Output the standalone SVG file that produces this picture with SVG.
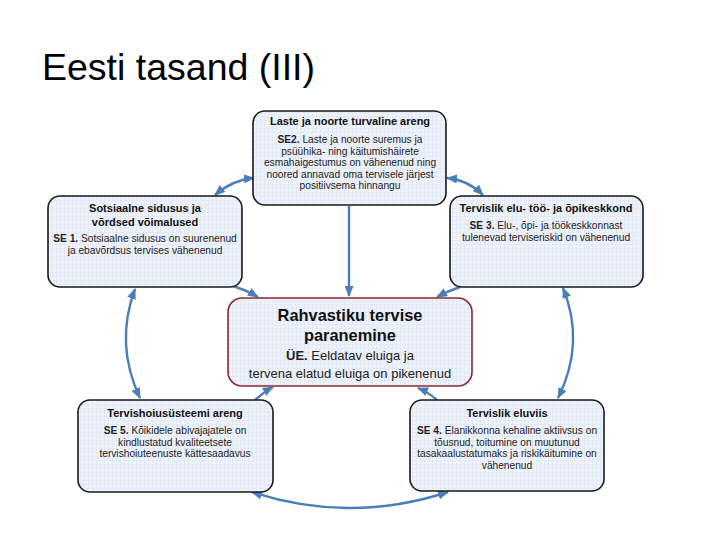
<svg xmlns="http://www.w3.org/2000/svg" width="709" height="539" viewBox="0 0 709 539">
<defs>
<pattern id="grid" width="4" height="4" patternUnits="userSpaceOnUse">
<rect width="4" height="4" fill="#eff3fa"/>
<path d="M0,0.5 H4 M0.5,0 V4" stroke="#e4eaf5" stroke-width="1"/>
</pattern>
<marker id="ah" markerUnits="userSpaceOnUse" markerWidth="11" markerHeight="9" refX="10" refY="4.5" orient="auto-start-reverse">
<path d="M0,0 L11,4.5 L0,9 z" fill="#4a7ebb"/>
</marker>
</defs>
<style>
.box{fill:url(#grid);stroke:#1a1a1a;stroke-width:1.6}
.main{fill:url(#grid);stroke:#8c2a2e;stroke-width:1.6}
.t{font-family:"Liberation Sans",Arial,sans-serif;font-weight:bold;font-size:11px;fill:#111;text-anchor:middle}
.b{font-family:"Liberation Sans",Arial,sans-serif;font-size:10.2px;fill:#222;text-anchor:middle}
.mt{font-family:"Liberation Sans",Arial,sans-serif;font-weight:bold;font-size:16.4px;fill:#111;text-anchor:middle}
.mb{font-family:"Liberation Sans",Arial,sans-serif;font-size:13px;fill:#222;text-anchor:middle}
.bold{font-weight:bold}
.c{fill:none;stroke:#4a7ebb;stroke-width:2.4}
</style>
<rect width="709" height="539" fill="#ffffff"/>
<text x="42" y="80" font-family="Liberation Sans,Arial,sans-serif" font-size="37.5" fill="#000">Eesti tasand (III)</text>

<g id="connectors">
<path class="c" d="M349,206 L349,296" marker-end="url(#ah)"/>
<path class="c" d="M233,286 Q246,290 258,297" marker-end="url(#ah)"/>
<path class="c" d="M460,287 Q448,291 437,297" marker-end="url(#ah)"/>
<path class="c" d="M255,400 Q264,392 273,387" marker-end="url(#ah)"/>
<path class="c" d="M437,400 Q428,392 418,388" marker-end="url(#ah)"/>
<path class="c" d="M215,195 Q232,180 254,178" marker-start="url(#ah)" marker-end="url(#ah)"/>
<path class="c" d="M447,178 Q468,180 483,195" marker-start="url(#ah)" marker-end="url(#ah)"/>
<path class="c" d="M135,289 Q114.5,344 140,398" marker-start="url(#ah)" marker-end="url(#ah)"/>
<path class="c" d="M563,288 Q585.5,343 558,398" marker-start="url(#ah)" marker-end="url(#ah)"/>
<path class="c" d="M252,492 Q350,524 448,492" marker-start="url(#ah)" marker-end="url(#ah)"/>
</g>

<g id="se2">
<rect class="box" x="253" y="111" width="193" height="94" rx="12"/>
<text class="t" x="350" y="125">Laste ja noorte turvaline areng</text>
<text class="b" x="350" y="143"><tspan class="bold">SE2.</tspan> Laste ja noorte suremus ja</text>
<text class="b" x="350" y="154.5">psüühika- ning käitumishäirete</text>
<text class="b" x="350" y="166">esmahaigestumus on vähenenud ning</text>
<text class="b" x="350" y="177.5">noored annavad oma tervisele järjest</text>
<text class="b" x="350" y="189">positiivsema hinnangu</text>
</g>

<g id="se1">
<rect class="box" x="48" y="196" width="194" height="91" rx="12"/>
<text class="t" x="145" y="212">Sotsiaalne sidusus ja</text>
<text class="t" x="145" y="226">võrdsed võimalused</text>
<text class="b" x="145" y="242"><tspan class="bold">SE 1.</tspan> Sotsiaalne sidusus on suurenenud</text>
<text class="b" x="145" y="254">ja ebavõrdsus tervises vähenenud</text>
</g>

<g id="se3">
<rect class="box" x="450" y="196" width="193" height="91" rx="12"/>
<text class="t" x="546" y="212">Tervislik elu- töö- ja õpikeskkond</text>
<text class="b" x="546" y="229"><tspan class="bold">SE 3.</tspan> Elu-, õpi- ja töökeskkonnast</text>
<text class="b" x="546" y="240.5">tulenevad terviseriskid on vähenenud</text>
</g>

<g id="ue">
<rect class="main" x="228" y="298" width="244" height="88" rx="14"/>
<text class="mt" x="350" y="321">Rahvastiku tervise</text>
<text class="mt" x="350" y="341">paranemine</text>
<text class="mb" x="350" y="360"><tspan class="bold">ÜE.</tspan> Eeldatav eluiga ja</text>
<text class="mb" x="350" y="378">tervena elatud eluiga on pikenenud</text>
</g>

<g id="se5">
<rect class="box" x="78" y="400" width="195" height="92" rx="12"/>
<text class="t" x="175" y="417">Tervishoiusüsteemi areng</text>
<text class="b" x="175" y="434"><tspan class="bold">SE 5.</tspan> Kõikidele abivajajatele on</text>
<text class="b" x="175" y="445.5">kindlustatud kvaliteetsete</text>
<text class="b" x="175" y="457">tervishoiuteenuste kättesaadavus</text>
</g>

<g id="se4">
<rect class="box" x="410" y="400" width="194" height="91" rx="12"/>
<text class="t" x="507" y="417">Tervislik eluviis</text>
<text class="b" x="507" y="434"><tspan class="bold">SE 4.</tspan> Elanikkonna kehaline aktiivsus on</text>
<text class="b" x="507" y="445.5">tõusnud, toitumine on muutunud</text>
<text class="b" x="507" y="457">tasakaalustatumaks ja riskikäitumine on</text>
<text class="b" x="507" y="468.5">vähenenud</text>
</g>
</svg>
